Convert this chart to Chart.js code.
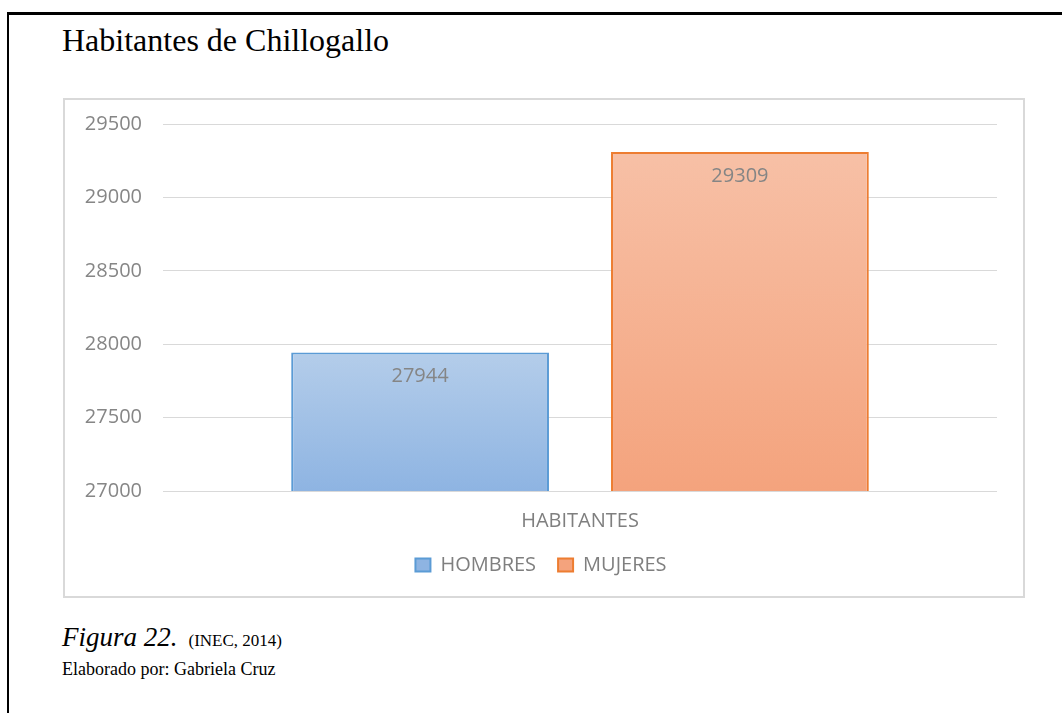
<!DOCTYPE html>
<html>
<head>
<meta charset="utf-8">
<script src="https://cdn.jsdelivr.net/npm/chart.js@4.4.0/dist/chart.umd.min.js"></script>
<style>
  body { margin: 0; background: #fff; width: 1062px; height: 713px; overflow: hidden; position: relative; }
  #frame { position: absolute; left: 7px; top: 12px; width: 1100px; height: 800px; border-top: 3px solid #000; border-left: 2px solid #000; }
  .serif { position: absolute; font-family: "Liberation Serif", "Times New Roman", serif; color: #000; white-space: nowrap; }
  #title { left: 62px; top: 24px; font-size: 32px; line-height: 32px; }
  #fig { left: 62px; top: 624px; font-size: 27px; line-height: 27px; }
  #fig i { font-style: italic; }
  #fig span { font-size: 17px; margin-left: 11px; }
  #author { left: 62px; top: 660px; font-size: 18px; line-height: 18px; }
  #box { position: absolute; left: 63px; top: 98px; width: 958px; height: 496px; border: 2px solid #d9d9d9; }
</style>
</head>
<body>
<div id="frame"></div>
<div class="serif" id="title">Habitantes de Chillogallo</div>
<div id="box"><canvas id="mycanvas"></canvas></div>
<div class="serif" id="fig"><i>Figura 22.</i><span>(INEC, 2014)</span></div>
<div class="serif" id="author">Elaborado por: Gabriela Cruz</div>
<script>
var categories = ["HABITANTES"];
var seriesNames = ["HOMBRES", "MUJERES"];
var hombres = [27944];
var mujeres = [29309];
var yTicks = [27000, 27500, 28000, 28500, 29000, 29500];

// gradient per bar, light at the top and darker at the base
function barFill(topColor, bottomColor, flat) {
  return function(ctx) {
    if (ctx.type !== 'data') return flat;
    var chart = ctx.chart;
    var y = chart.scales.y;
    if (!chart.chartArea || !y || ctx.raw == null) return flat;
    var yTop = y.getPixelForValue(ctx.raw);
    var yBot = y.getPixelForValue(y.min);
    if (!isFinite(yTop) || !isFinite(yBot) || yTop === yBot) return flat;
    var g = chart.ctx.createLinearGradient(0, yTop, 0, yBot);
    g.addColorStop(0, topColor);
    g.addColorStop(1, bottomColor);
    return g;
  };
}

var valueLabels = {
  id: 'valueLabels',
  afterDatasetsDraw: function(chart) {
    var c = chart.ctx;
    c.save();
    c.font = '20px "Open Sans"';
    c.fillStyle = '#858585';
    c.textAlign = 'center';
    c.textBaseline = 'middle';
    chart.data.datasets.forEach(function(ds, i) {
      chart.getDatasetMeta(i).data.forEach(function(bar, j) {
        c.fillText(String(ds.data[j]), bar.x, bar.y + 24);
      });
    });
    c.restore();
  }
};

var data = {
  labels: categories,
  datasets: [
    {
      label: seriesNames[0],
      data: hombres,
      backgroundColor: barFill('#b4cdea', '#8eb4e2', '#a5c2e6'),
      borderColor: '#5b9bd5',
      borderWidth: 2
    },
    {
      label: seriesNames[1],
      data: mujeres,
      backgroundColor: barFill('#f7c0a6', '#f4a37d', '#f5b293'),
      borderColor: '#ed7d31',
      borderWidth: 2
    }
  ]
};

Chart.defaults.font.family = '"Open Sans", sans-serif';

new Chart(document.getElementById('mycanvas'), {
  type: 'bar',
  data: data,
  options: {
    responsive: true,
    maintainAspectRatio: false,
    animation: false,
    categoryPercentage: 0.767,
    barPercentage: 0.806,
    layout: { padding: { left: 20, right: 26, top: 24, bottom: 11 } },
    plugins: {
      tooltip: { enabled: false },
      legend: {
        position: 'bottom',
        labels: {
          color: '#7f7f7f',
          font: { size: 20 },
          boxWidth: 15,
          boxHeight: 13,
          padding: 22
        }
      }
    },
    scales: {
      x: {
        grid: { display: false },
        border: { display: false },
        ticks: { color: '#7f7f7f', font: { size: 20 }, padding: 10 },
        afterFit: function(s) { s.height = 42; }
      },
      y: {
        min: yTicks[0],
        max: yTicks[yTicks.length - 1],
        afterBuildTicks: function(s) { s.ticks = yTicks.map(function(v) { return { value: v }; }); },
        grid: { color: '#d9d9d9', lineWidth: 1, drawTicks: false },
        border: { display: false },
        ticks: {
          color: '#868686',
          font: { size: 20 },
          padding: 21,
          callback: function(v) { return String(v); }
        },
        afterFit: function(s) {
          s.width = 78;
          s.paddingTop = 0;
          s.paddingBottom = 0;
        }
      }
    }
  },
  plugins: [valueLabels]
});
</script>
</body>
</html>
